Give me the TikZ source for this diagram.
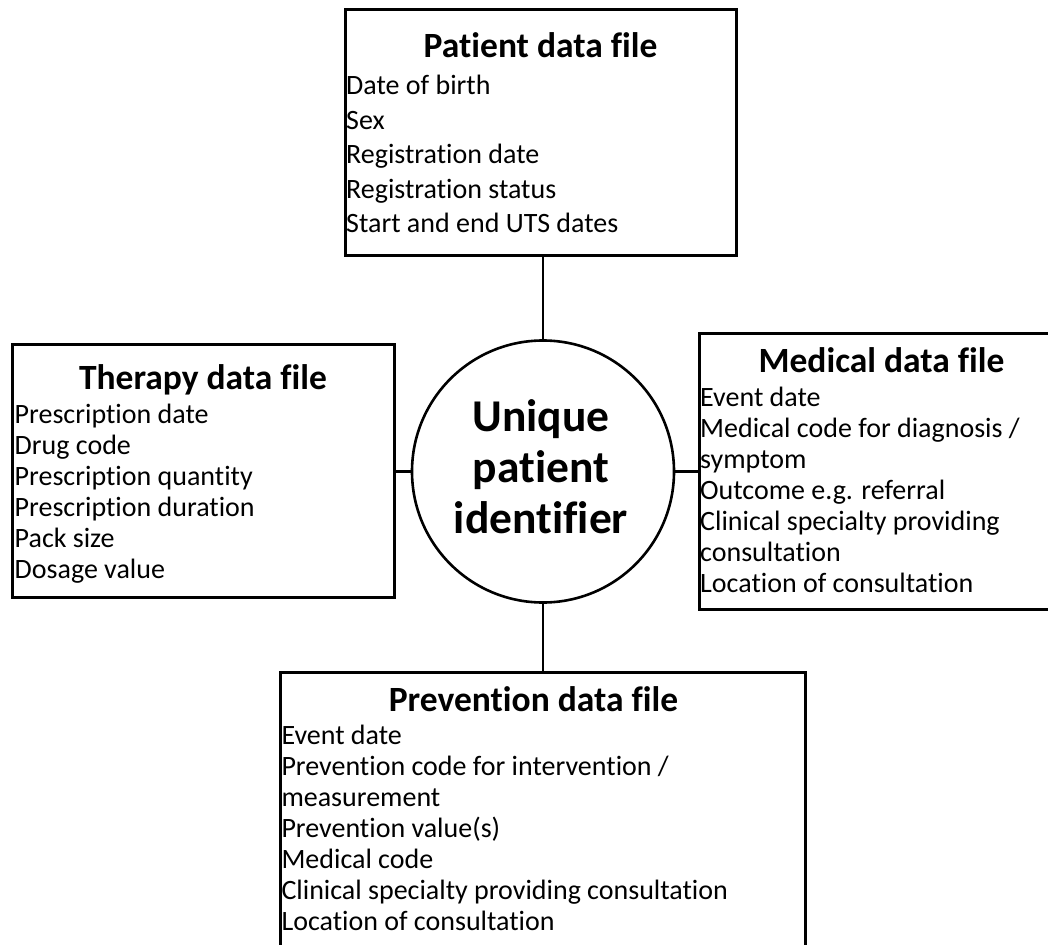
\documentclass[tikz,border=0pt]{standalone}
\usepackage{fontspec}
\setmainfont{Carlito}[Ligatures={NoCommon,NoContextual}]
% a left-aligned list of fields, first baseline at the node's base
\newcommand\fieldlist[2]{{\fontsize{28pt}{#1}\selectfont\begin{tabular}[t]{@{}l@{}}#2\end{tabular}}}
\tikzset{
  filebox/.style={draw, rectangle, line width=3pt, inner sep=0pt},
  boxtitle/.style={anchor=base, inner sep=0pt, font=\bfseries\fontsize{35.5pt}{40pt}\selectfont},
  fields/.style={anchor=base west, inner sep=0pt},
  link/.style={line width=2.6pt},
}
\begin{document}
\begin{tikzpicture}[x=1pt,y=-1pt]
\useasboundingbox (0,0) rectangle (1048,944);
\fill[white] (0,0) rectangle (1048,944);

% the four data files
\node[filebox, minimum width=391.5pt, minimum height=245pt] (pat) at (540.75,132.5) {};
\node[filebox, minimum width=382.5pt, minimum height=253pt] (ther) at (203.25,470.5) {};
\node[filebox, minimum width=365pt, minimum height=276pt] (med) at (881.5,471) {};
\node[filebox, minimum width=525pt, minimum height=276pt] (prev) at (542.5,810) {};

% the central identifier
\node[circle, draw, line width=2.6pt, minimum size=262pt, inner sep=0pt] (core) at (543,471.5) {};
\node[anchor=base, inner sep=0pt, font=\bfseries\fontsize{45.5pt}{50.8pt}\selectfont] (coreT) at (541,431.7)
  {\begin{tabular}[t]{@{}c@{}}Unique\\patient\\identifier\end{tabular}};

% titles
\node[boxtitle] (patT) at (540.5,57.3) {Patient data file};
\node[boxtitle] (therT) at (203,389.3) {Therapy data file};
\node[boxtitle] (medT) at (881.5,372.5) {Medical data file};
\node[boxtitle] (prevT) at (533.5,711) {Prevention data file};

% field lists
\node[fields] (patF) at (346,95) {\fieldlist{34.4pt}{Date of birth\\Sex\\Registration date\\Registration status\\Start and end UTS dates}};
\node[fields] (therF) at (14.5,423) {\fieldlist{31pt}{Prescription date\\Drug code\\Prescription quantity\\Prescription duration\\Pack size\\Dosage value}};
\node[fields] (medF) at (700,406.5) {\fieldlist{31pt}{Event date\\Medical code for diagnosis /\\symptom\\Outcome e.g. referral\\Clinical specialty providing\\consultation\\Location of consultation}};
\node[fields] (prevF) at (281.3,744.3) {\fieldlist{31pt}{Event date\\Prevention code for intervention /\\measurement\\Prevention value(s)\\Medical code\\Clinical specialty providing consultation\\Location of consultation}};

% connectors
\draw[link] (core.north) -- (core.north |- pat.south);
\draw[link] (core.west) -- (core.west -| ther.east);
\draw[link] (core.east) -- (core.east -| med.west);
\draw[link] (core.south) -- (core.south |- prev.north);
\end{tikzpicture}
\end{document}
